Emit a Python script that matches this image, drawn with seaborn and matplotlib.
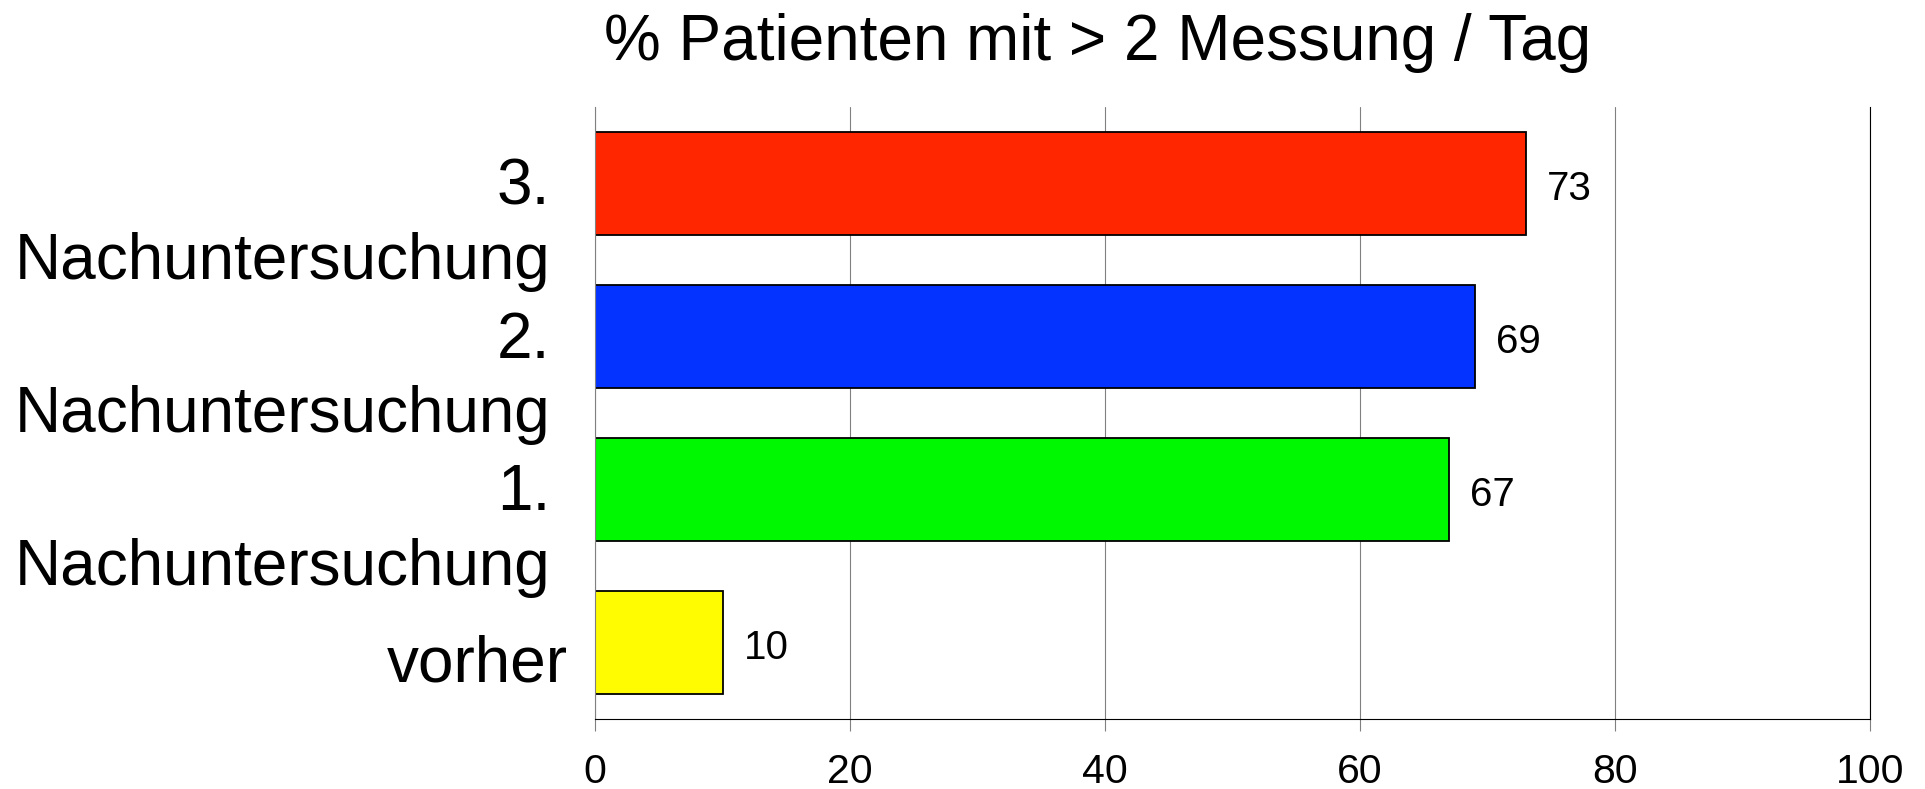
import matplotlib
matplotlib.use("Agg")
import matplotlib.pyplot as plt
import seaborn as sns
import pandas as pd

# Data (top to bottom)
categories = ["3.\nNachuntersuchung", "2.\nNachuntersuchung", "1.\nNachuntersuchung", "vorher"]
values = [73, 69, 67, 10]
bar_colors = ["#FF2600", "#0433FF", "#00F900", "#FFFB00"]
x_ticks = [0, 20, 40, 60, 80, 100]
title = "% Patienten mit > 2 Messung / Tag"

sns.set_style("white")
plt.rcParams["font.family"] = ["Liberation Sans", "DejaVu Sans"]
plt.rcParams["text.color"] = "black"
plt.rcParams["xtick.labelcolor"] = "black"

df = pd.DataFrame({"Gruppe": categories, "Prozent": values})

W, H = 1925, 789
fig = plt.figure(figsize=(W / 100, H / 100), dpi=100)
ax = fig.add_axes([595 / W, 1 - 719 / H, (1870 - 595) / W, (719 - 107) / H])

sns.barplot(data=df, x="Prozent", y="Gruppe", hue="Gruppe", palette=bar_colors,
            order=categories, hue_order=categories, legend=False, orient="h",
            width=0.67, edgecolor="black", linewidth=1.3, saturation=1, ax=ax)

ax.set_xlim(0, 100)
ax.set_ylim(len(categories) - 0.5, -0.5)
ax.set_xticks(x_ticks)
ax.set_xticklabels([str(t) for t in x_ticks])
ax.set_xlabel("")
ax.set_ylabel("")
ax.set_yticks([])

ax.set_axisbelow(True)
ax.grid(axis="x", color="#808080", linewidth=0.8)
ax.grid(axis="y", visible=False)

ax.spines["top"].set_visible(False)
ax.spines["left"].set_color("#808080")
ax.spines["left"].set_linewidth(0.8)
ax.spines["right"].set_color("black")
ax.spines["right"].set_linewidth(0.8)
ax.spines["bottom"].set_color("black")
ax.spines["bottom"].set_linewidth(0.8)

ax.tick_params(axis="x", direction="out", length=8.6, width=0.8, color="#808080",
               pad=16, labelsize=29.5, labelcolor="black", bottom=True)
ax.xaxis.get_major_ticks()[-1].tick1line.set_color("black")

# category labels at the left of the axis
for i, lab in enumerate(categories):
    multi = "\n" in lab
    if multi:
        ax.annotate(lab, xy=(0, i), xycoords=("axes fraction", "data"),
                    xytext=(-45, 26), textcoords="offset pixels",
                    ha="right", va="top", multialignment="right",
                    linespacing=1.3, fontsize=46, color="black")
    else:
        ax.annotate(lab, xy=(0, i), xycoords=("axes fraction", "data"),
                    xytext=(-27, -39), textcoords="offset pixels",
                    ha="right", va="baseline", fontsize=46, color="black")

# value labels at the bar ends
for i, v in enumerate(values):
    ax.annotate(str(v), xy=(v, i), xycoords="data", xytext=(21, -16.5),
                textcoords="offset pixels", ha="left", va="baseline",
                fontsize=29, color="black")

fig.text(1098 / W, 1 - 60 / H, title, ha="center", va="baseline", fontsize=46,
         color="black")

fig.savefig("out.png", dpi=100)
